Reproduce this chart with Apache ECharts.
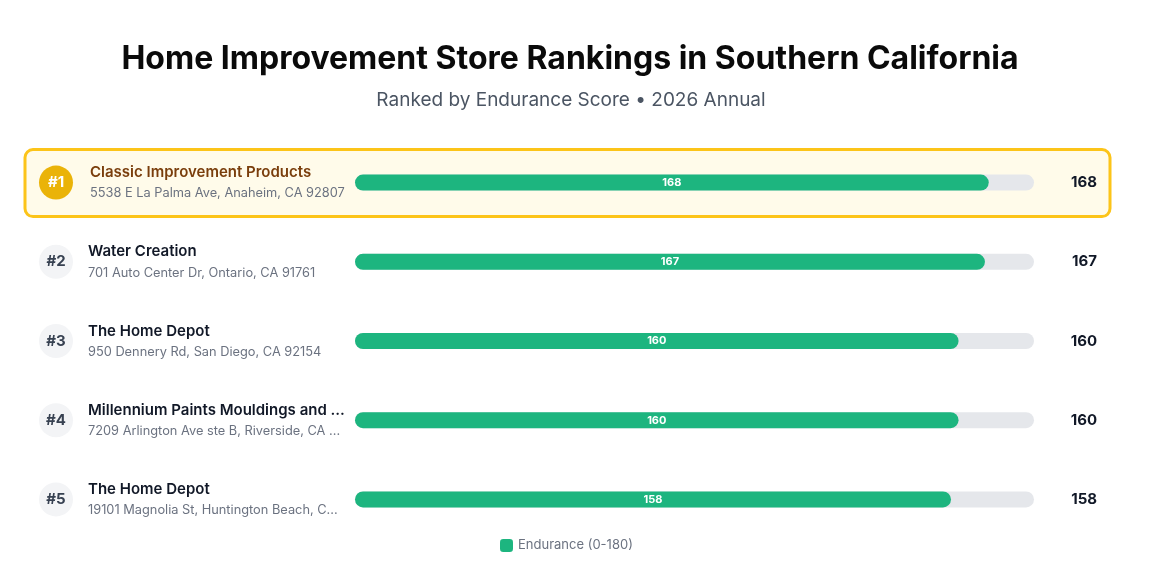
<!DOCTYPE html>
<html><head><meta charset="utf-8">
<script src="https://cdn.jsdelivr.net/npm/echarts@6/dist/echarts.min.js"></script>
<style>html,body{margin:0;padding:0;background:#fff}#c{width:1151px;height:565px}</style>
</head><body><div id="c"></div>
<script>
const names = ['Classic Improvement Products','Water Creation','The Home Depot','Millennium Paints Mouldings and ...','The Home Depot'];
const addresses = ['5538 E La Palma Ave, Anaheim, CA 92807','701 Auto Center Dr, Ontario, CA 91761','950 Dennery Rd, San Diego, CA 92154','7209 Arlington Ave ste B, Riverside, CA ...','19101 Magnolia St, Huntington Beach, C...'];
const ranks = ['#1','#2','#3','#4','#5'];
const scores = [168, 167, 160, 160, 158];
const scoreMax = 180;

const F = 'Inter, "Noto Sans", sans-serif';
const chart = echarts.init(document.getElementById('c'));
chart.setOption({
  backgroundColor: '#fff',
  title: [
    {text: 'Home Improvement Store Rankings in Southern California', left: 565, top: 38, textAlign: 'center',
     textStyle: {fontFamily: F, fontSize: 32, fontWeight: 'bold', color: '#0a0a0a'}},
    {text: 'Ranked by Endurance Score \u2022 2026 Annual', left: 566, top: 86, textAlign: 'center',
     textStyle: {fontFamily: F, fontSize: 19, fontWeight: 'normal', color: '#4b5563'}}
  ],
  legend: {bottom: 8, left: 495, data: ['Endurance (0-180)'], itemWidth: 13, itemHeight: 13, itemGap: 10, icon: 'roundRect',
    textStyle: {fontFamily: F, fontSize: 13, color: '#6b7280'}},
  grid: {left: 355, right: 117, top: 143, bottom: 26},
  xAxis: {type: 'value', min: 0, max: scoreMax, show: false},
  yAxis: {type: 'category', inverse: true, data: names, show: false},
  series: [
    {
      type: 'custom', name: 'rows', z: 1, silent: true,
      data: scores.map((v, i) => [v, i]),
      renderItem: function (params, api) {
        const i = params.dataIndex;
        const p = api.coord([0, i]);
        const yc = p[1];
        const top = i === 0;
        const children = [];
        if (top) {
          children.push({type: 'rect', shape: {x: 25, y: yc - 33, width: 1085, height: 67, r: 8},
            style: {fill: '#fffbea', stroke: '#fcc419', lineWidth: 3}});
        }
        children.push({type: 'circle', shape: {cx: 56, cy: yc, r: 17},
          style: {fill: top ? '#eab308' : '#f3f4f6'}});
        children.push({type: 'text', style: {x: 56, y: yc, text: ranks[i], align: 'center', verticalAlign: 'middle',
          fontFamily: F, fontSize: 15, fontWeight: 'bold', fill: top ? '#ffffff' : '#374151'}});
        children.push({type: 'text', style: {x: top ? 90 : 88, y: yc - 10, text: names[i], align: 'left', verticalAlign: 'middle',
          fontFamily: F, fontSize: 15, fontWeight: 600, fill: top ? '#7a3e0c' : '#111827'}});
        children.push({type: 'text', style: {x: top ? 90 : 88, y: yc + 11, text: addresses[i], align: 'left', verticalAlign: 'middle',
          fontFamily: F, fontSize: 12.8, fontWeight: 'normal', fill: '#6b7280'}});
        children.push({type: 'text', style: {x: 1097, y: yc, text: String(api.value(0)), align: 'right', verticalAlign: 'middle',
          fontFamily: F, fontSize: 15, fontWeight: 'bold', fill: '#111827'}});
        return {type: 'group', children: children};
      }
    },
    {
      type: 'bar', name: 'Endurance (0-180)', z: 3, data: scores, barWidth: 16,
      itemStyle: {color: '#1db57f', borderRadius: 8},
      showBackground: true,
      backgroundStyle: {color: '#e5e7eb', borderRadius: 8},
      label: {show: true, position: 'inside', color: '#ffffff', fontFamily: F, fontSize: 11, fontWeight: 'bold'}
    }
  ]
});
</script></body></html>
